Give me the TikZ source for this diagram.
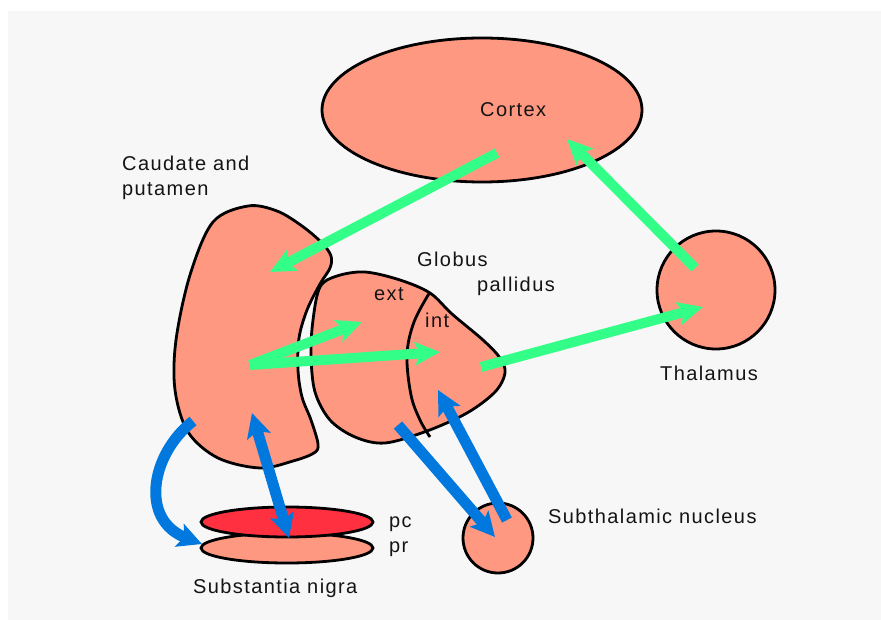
\documentclass[tikz,border=0pt]{standalone}
\usepackage{fontspec}
\setmainfont{Liberation Sans}[LetterSpace=7]
\usetikzlibrary{arrows.meta,shapes.geometric}
\definecolor{salmon}{RGB}{255,152,128}
\definecolor{pcred}{RGB}{255,48,64}
\definecolor{arrgreen}{RGB}{51,255,136}
\definecolor{arrblue}{RGB}{0,120,222}
\definecolor{bggrey}{RGB}{247,247,247}
\tikzset{
  organ/.style={fill=salmon,draw=black,line width=2.8pt},
  lbl/.style={anchor=base west,inner sep=0pt,font=\fontsize{20}{24}\selectfont,text=black!92},
  garrow/.style={draw=arrgreen,line width=10pt,-{Stealth[length=25pt,width=23pt,inset=5pt]}},
  barrow/.style={draw=arrblue,line width=11pt,-{Stealth[length=24pt,width=24pt,inset=5pt]}},
  bdarrow/.style={draw=arrblue,line width=11pt,{Stealth[length=24pt,width=24pt,inset=5pt]}-{Stealth[length=24pt,width=24pt,inset=5pt]}}
}
\begin{document}
\begin{tikzpicture}[x=1pt,y=-1pt]
\useasboundingbox (0,0) rectangle (881,620);
\fill[bggrey] (8,11) rectangle (881,620);

% Cortex
\node[organ,ellipse,inner sep=0pt,minimum width=320pt,minimum height=144pt] (cortex) at (482,110) {};
% Thalamus
\node[organ,circle,inner sep=0pt,minimum size=118pt] (thalamus) at (716,290) {};
% Subthalamic nucleus
\node[organ,circle,inner sep=0pt,minimum size=70pt] (stn) at (498,538) {};
% Substantia nigra
\node[organ,ellipse,inner sep=0pt,minimum width=172pt,minimum height=30pt] (pr) at (287,548) {};
\node[organ,fill=pcred,ellipse,inner sep=0pt,minimum width=172pt,minimum height=30pt] (pc) at (287,522) {};

% Caudate and putamen
\draw[organ] plot[smooth cycle,tension=0.55] coordinates {
 (248,206) (277,211) (302,226) (322,243) (331,256) (330,268) (320,284)
 (307,310) (299,338) (298,370) (302,397) (311,420) (318,444) (314,453)
 (293,461) (260,468) (218,458) (188,432) (175,390) (176,340) (190,275) (213,222)};
% Globus pallidus
\draw[organ] plot[smooth cycle,tension=0.55] coordinates {
 (320,287) (313,320) (311,355) (315,392) (330,420) (355,437) (385,443)
 (427,431) (467,413) (495,392) (505,373) (500,358) (483,340) (452,314)
 (430,293) (400,280) (365,272) (337,276)};
\draw[line width=2.8pt] plot[smooth,tension=0.6] coordinates {
 (430,292) (414,322) (407,355) (411,395) (420,420) (430,437)};

% labels
\node[lbl] (lcortex) at (480,117) {Cortex};
\node[lbl] (lcaud1) at (122,171) {Caudate and};
\node[lbl] (lcaud2) at (122,196) {putamen};
\node[lbl] (lglob1) at (417,267) {Globus};
\node[lbl] (lglob2) at (477,292) {pallidus};
\node[lbl] (lext) at (374,301) {ext};
\node[lbl] (lint) at (425,327) {int};
\node[lbl] (lthal) at (660,381) {Thalamus};
\node[lbl] (lstn) at (548,523) {Subthalamic nucleus};
\node[lbl] (lpc) at (389,527) {pc};
\node[lbl] (lpr) at (389,552) {pr};
\node[lbl] (lsn) at (193,593) {Substantia nigra};

% connector end points
\coordinate (cortexout) at (497,153);
\coordinate (caudin) at (270,272);
\coordinate (thalout) at (695,268);
\coordinate (cortexin) at (567,139);
\coordinate (caudout) at (250,365);
\coordinate (extin) at (362,322);
\coordinate (intin) at (440,352);
\coordinate (intout) at (481,367);
\coordinate (thalin) at (703,307);
\coordinate (caudbl) at (193,421);
\coordinate (prin) at (202,544);
\coordinate (caudpc) at (252,413);
\coordinate (pcin) at (289,538);
\coordinate (globout) at (398,425);
\coordinate (stnin) at (495,537);
\coordinate (stnout) at (507,520);
\coordinate (intin2) at (438,390);

% green arrows
\draw[garrow] (cortexout) -- (caudin);
\draw[garrow] (thalout) -- (cortexin);
\draw[garrow] (caudout) -- (extin);
\draw[garrow] (caudout) -- (intin);
\draw[garrow] (intout) -- (thalin);
% blue arrows
\draw[barrow] (caudbl) .. controls (150,455) and (140,520) .. (prin);
\draw[bdarrow] (caudpc) -- (pcin);
\draw[barrow] (globout) -- (stnin);
\draw[barrow] (stnout) -- (intin2);
\end{tikzpicture}
\end{document}
